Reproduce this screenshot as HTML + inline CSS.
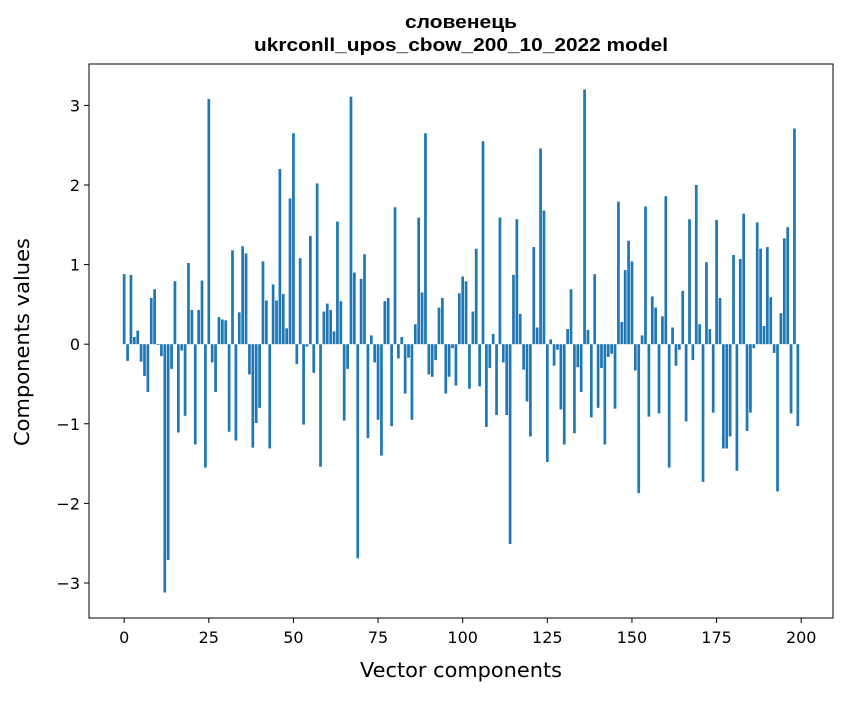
<!DOCTYPE html>
<html><head><meta charset="utf-8"><style>
body{margin:0;background:#fff;}
svg text{font-family:"DejaVu Sans","Liberation Sans",sans-serif;fill:#000;}
</style></head><body>
<svg id="chart" width="847" height="696" xmlns="http://www.w3.org/2000/svg">
<rect width="847" height="696" fill="#fff"/>
<text x="461" y="28" text-anchor="middle" font-size="18" font-weight="bold" style="font-family:'Liberation Sans',Arial,sans-serif" textLength="112" lengthAdjust="spacingAndGlyphs">словенець</text>
<text x="461" y="51" text-anchor="middle" font-size="18" font-weight="bold" style="font-family:'Liberation Sans',Arial,sans-serif" textLength="414" lengthAdjust="spacingAndGlyphs">ukrconll_upos_cbow_200_10_2022 model</text>
<g id="bars"></g>
<g id="xticks"></g>
<g id="yticks"></g>
<rect x="89" y="64" width="744" height="554" fill="none" stroke="#000" stroke-width="1"/>
<text x="461" y="677" text-anchor="middle" font-size="20" textLength="202" lengthAdjust="spacingAndGlyphs">Vector components</text>
<text transform="translate(29,342) rotate(-90)" text-anchor="middle" font-size="20" textLength="208" lengthAdjust="spacingAndGlyphs">Components values</text>
</svg>
<script>
const values=[0.88,-0.21,0.87,0.09,0.17,-0.22,-0.40,-0.60,0.58,0.69,
-0.01,-0.15,-3.12,-2.71,-0.31,0.79,-1.11,-0.08,-0.90,1.02,
0.43,-1.26,0.43,0.80,-1.55,3.08,-0.23,-0.60,0.34,0.31,
0.30,-1.10,1.18,-1.21,0.40,1.23,1.14,-0.38,-1.30,-0.99,
-0.80,1.04,0.55,-1.31,0.75,0.55,2.20,0.63,0.20,1.83,
2.65,-0.25,1.08,-1.01,-0.03,1.36,-0.36,2.02,-1.54,0.41,
0.51,0.43,0.16,1.54,0.54,-0.96,-0.31,3.11,0.90,-2.69,
0.82,1.13,-1.18,0.11,-0.23,-0.95,-1.40,0.54,0.58,-1.03,
1.72,-0.18,0.09,-0.62,-0.17,-0.95,0.25,1.59,0.65,2.65,
-0.38,-0.41,-0.20,0.46,0.58,-0.62,-0.41,-0.05,-0.52,0.64,
0.85,0.79,-0.56,0.41,1.20,-0.53,2.55,-1.04,-0.30,0.13,
-0.89,1.59,-0.23,-0.89,-2.51,0.87,1.57,0.38,-0.32,-0.72,
-1.16,1.22,0.21,2.46,1.68,-1.48,0.06,-0.27,-0.07,-0.82,
-1.26,0.19,0.69,-1.12,-0.29,-0.60,3.20,0.18,-0.92,0.88,
-0.80,-0.30,-1.26,-0.16,-0.12,-0.81,1.79,0.28,0.93,1.30,
1.04,-0.33,-1.87,0.11,1.73,-0.91,0.60,0.46,-0.87,0.35,
1.86,-1.55,0.21,-0.27,-0.07,0.67,-0.97,1.57,-0.20,2.00,
0.25,-1.73,1.03,0.19,-0.86,1.56,0.58,-1.31,-1.31,-1.16,
1.12,-1.59,1.07,1.64,-1.09,-0.86,-0.05,1.53,1.20,0.23,
1.22,0.59,-0.11,-1.85,0.39,1.33,1.47,-0.87,2.71,-1.03];
const xTicks=[0,25,50,75,100,125,150,175,200];
const yTicks=[-3,-2,-1,0,1,2,3];
const NS="http://www.w3.org/2000/svg";
const L=89,R=833,T=64,B=618;
const xmin=-10.39,xmax=209.39,ymin=-3.44,ymax=3.52;
const sx=v=>L+(v-xmin)/(xmax-xmin)*(R-L);
const sy=v=>B-(v-ymin)/(ymax-ymin)*(B-T);
const bars=document.getElementById('bars');
values.forEach((v,i)=>{
  const r=document.createElementNS(NS,'rect');
  const x0=sx(i-0.4),x1=sx(i+0.4);
  const y0=sy(Math.max(v,0)),y1=sy(Math.min(v,0));
  r.setAttribute('x',x0);r.setAttribute('width',x1-x0);
  r.setAttribute('y',y0);r.setAttribute('height',Math.max(y1-y0,0.3));
  r.setAttribute('fill','#1f77b4');
  
  
  bars.appendChild(r);
});
const xg=document.getElementById('xticks');
xTicks.forEach(t=>{
  const x=sx(t);
  const l=document.createElementNS(NS,'line');
  l.setAttribute('x1',x);l.setAttribute('x2',x);l.setAttribute('y1',B);l.setAttribute('y2',B+5);
  l.setAttribute('stroke','#000');
  
  
  xg.appendChild(l);
  const tx=document.createElementNS(NS,'text');
  tx.setAttribute('x',x);tx.setAttribute('y',B+25);tx.setAttribute('text-anchor','middle');tx.setAttribute('font-size','16');
  tx.textContent=String(t);
  
  
  xg.appendChild(tx);
});
const yg=document.getElementById('yticks');
yTicks.forEach(t=>{
  const y=sy(t);
  const l=document.createElementNS(NS,'line');
  l.setAttribute('x1',L-5);l.setAttribute('x2',L);l.setAttribute('y1',y);l.setAttribute('y2',y);
  l.setAttribute('stroke','#000');
  
  
  yg.appendChild(l);
  const tx=document.createElementNS(NS,'text');
  tx.setAttribute('x',L-9);tx.setAttribute('y',y+6);tx.setAttribute('text-anchor','end');tx.setAttribute('font-size','16');
  tx.textContent=t<0?'\u2212'+Math.abs(t):String(t);
  
  
  yg.appendChild(tx);
});
</script>
</body></html>
